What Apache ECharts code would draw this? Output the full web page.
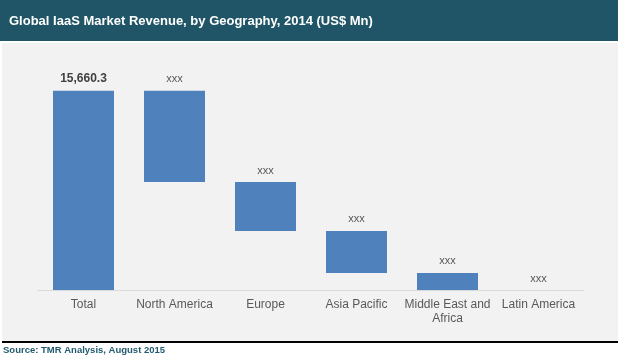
<!DOCTYPE html>
<html>
<head>
<meta charset="utf-8">
<script src="https://cdn.jsdelivr.net/npm/echarts@6/dist/echarts.min.js"></script>
<style>
html,body{margin:0;padding:0;background:#ffffff;}
#chart{width:618px;height:359px;}
</style>
</head>
<body>
<div id="chart"></div>
<script>
var categories = ['Total', 'North America', 'Europe', 'Asia Pacific', 'Middle East and\nAfrica', 'Latin America'];
var values = [15660.3, 7170, 3850, 3300, 1340, 0.3];
var labels = ['15,660.3', 'xxx', 'xxx', 'xxx', 'xxx', 'xxx'];
var titleText = 'Global IaaS Market Revenue, by Geography, 2014 (US$ Mn)';
var sourceText = 'Source: TMR Analysis, August 2015';

// waterfall bases built from the values
var bases = [];
var remaining = values[0];
for (var i = 0; i < values.length; i++) {
  if (i === 0) { bases.push(0); }
  else { remaining -= values[i]; bases.push(Math.max(remaining, 0)); }
}

var barData = values.map(function (v, i) {
  if (i === 0) {
    return {value: v, label: {fontWeight: 'bold', fontSize: 12, color: '#404040'}};
  }
  return v;
});

var chart = echarts.init(document.getElementById('chart'), null, {renderer: 'canvas'});
chart.setOption({
  animation: false,
  backgroundColor: '#ffffff',
  graphic: [
    {type: 'rect', z: -10, shape: {x: 0, y: 0, width: 618, height: 41}, style: {fill: '#1f5566'}},
    {type: 'rect', z: -10, shape: {x: 2, y: 43, width: 616, height: 298}, style: {fill: '#f2f2f2'}},
    {type: 'rect', z: -10, shape: {x: 2, y: 341, width: 616, height: 2}, style: {fill: '#000000'}},
    {type: 'text', z: 10, left: 9, top: 15, style: {text: titleText, fill: '#ffffff', font: 'bold 13px "Liberation Sans", Arial, sans-serif'}},
    {type: 'text', z: 10, left: 3, top: 345, style: {text: sourceText, fill: '#1f5a6e', font: 'bold 9.5px "Liberation Sans", Arial, sans-serif'}}
  ],
  grid: {left: 38, right: 34, top: 61, bottom: 69, containLabel: false},
  xAxis: {
    type: 'category',
    data: categories,
    axisLine: {lineStyle: {color: '#d9d9d9', width: 1}},
    axisTick: {show: false},
    axisLabel: {color: '#595959', fontSize: 12, fontFamily: '"Liberation Sans", Arial, sans-serif', margin: 8, lineHeight: 14, interval: 0}
  },
  yAxis: {
    type: 'value', min: 0, max: 18000, show: false,
    splitLine: {show: false}
  },
  series: [
    {
      type: 'bar', stack: 'w', data: bases, barWidth: 61,
      itemStyle: {color: 'transparent'}, silent: true
    },
    {
      type: 'bar', stack: 'w', data: barData, barWidth: 61,
      itemStyle: {color: '#4f81bd'},
      label: {
        show: true, position: 'top', distance: 6,
        fontFamily: '"Liberation Sans", Arial, sans-serif',
        formatter: function (p) { return labels[p.dataIndex]; },
        color: '#595959', fontSize: 11
      }
    }
  ]
});
</script>
</body>
</html>
